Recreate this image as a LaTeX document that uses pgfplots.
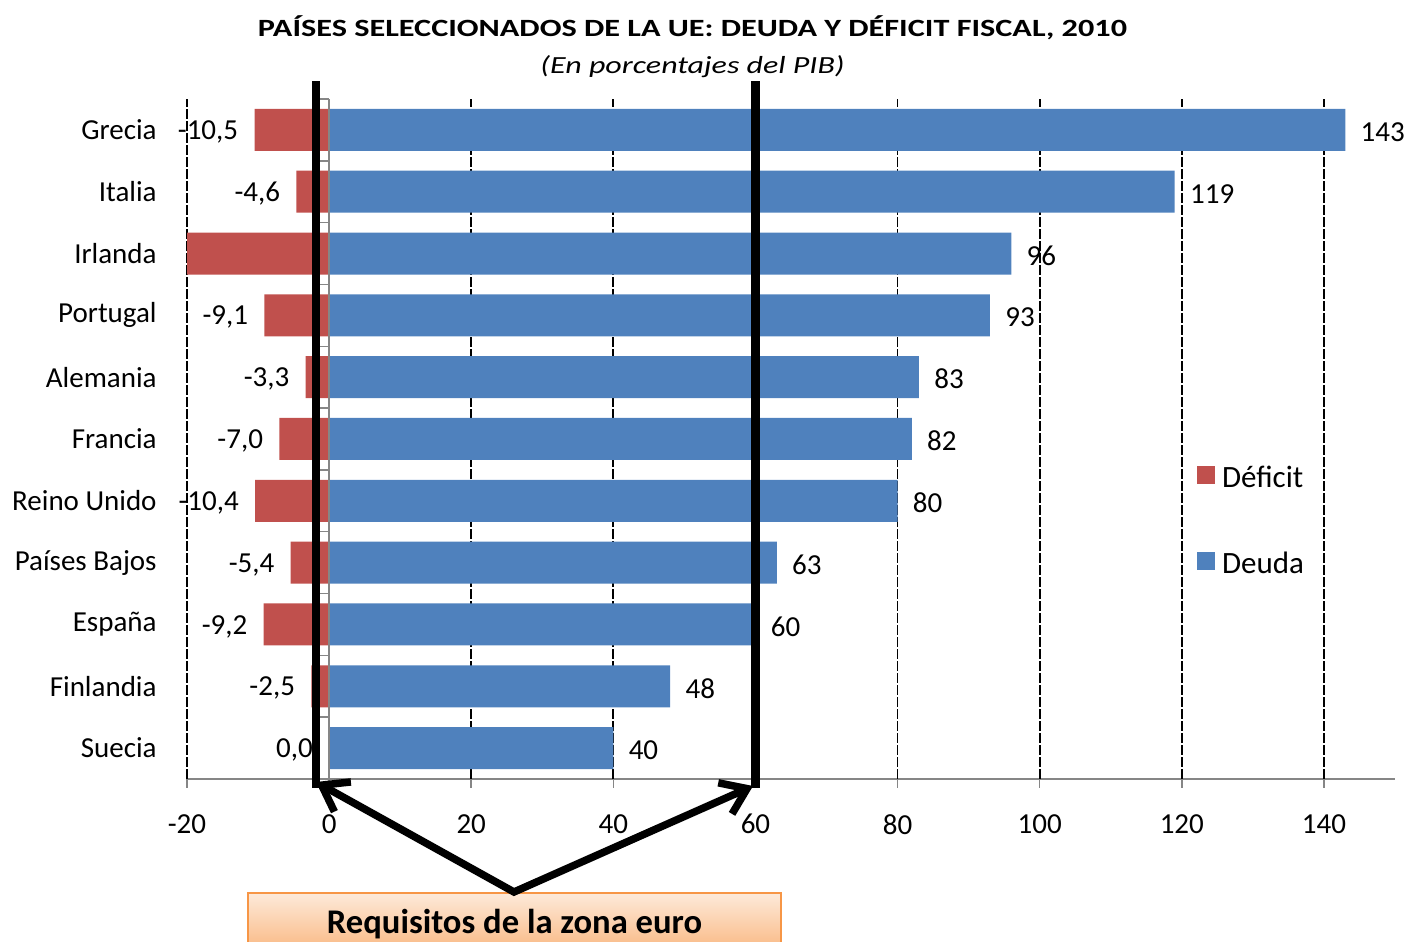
\documentclass[border=0pt]{standalone}
\usepackage{pgfplots}
\pgfplotsset{compat=1.18}
\usepackage{fontspec}
\setmainfont{Carlito}
\newfontfamily\stretchfont[FakeStretch=1.3]{Carlito}
\usetikzlibrary{arrows.meta}
\definecolor{defred}{HTML}{C0504D}
\definecolor{deublue}{HTML}{4F81BD}
\definecolor{axgray}{HTML}{868686}
\definecolor{boxtop}{HTML}{FDEADA}
\definecolor{boxbot}{HTML}{FAC090}
\definecolor{boxline}{HTML}{F79646}
\begin{document}
\begin{tikzpicture}
\useasboundingbox (0,0) rectangle (704.5pt,471pt);
\begin{axis}[
  at={(93.5pt,81.5pt)}, anchor=south west, scale only axis,
  width=604pt, height=340pt,
  xmin=-20, xmax=150, ymin=-0.5, ymax=10.5,
  axis x line*=bottom, axis y line*=left,
  x axis line style={axgray, line width=0.75pt, -},
  y axis line style={draw=none},
  xtick={-20,0,...,140},
  xticklabels={-20,0,20,40,60,80,100,120,140},
  tick align=outside, major tick length=4.5pt,
  xtick style={axgray, line width=0.75pt},
  ytick={0,...,10},
  yticklabels={Suecia,Finlandia,España,Países Bajos,Reino Unido,Francia,Alemania,Portugal,Irlanda,Italia,Grecia},
  ytick style={draw=none},
  tick label style={font=\fontsize{14.5}{17}\selectfont},
  yticklabel style={anchor=east, inner sep=0pt, xshift=-10.5pt},
  xticklabel style={anchor=north, inner sep=0pt, yshift=-13pt},
  extra x ticks={-20,20,40,60,80,100,120,140},
  extra x tick labels={},
  extra x tick style={grid=major, major tick length=0pt},
  major grid style={black, line width=0.9pt, dash pattern=on 5pt off 1pt},
  xbar, bar width=21pt, bar shift=0pt,
  nodes near coords, point meta=explicit symbolic,
  nodes near coords style={font=\fontsize{14.5}{17}\selectfont, inner sep=0pt, black, yshift=-1pt},
  legend image code/.code={\fill[#1] (0pt,-1.5pt) rectangle (9pt,7.5pt);},
  legend style={at={(rel axis cs:0.8361,0.461)}, anchor=north west, draw=none, fill=none,
    inner sep=0pt, outer sep=0pt, row sep=29pt, column sep=3.5pt,
    font=\fontsize{15.5}{18}\selectfont,
    nodes={inner sep=0pt, text height=10pt, text depth=3pt}},
  legend cell align=left,
]
\addplot[fill=defred, draw=none, nodes near coords style={anchor=east, xshift=-8pt}]
  table[x=x, y=y, meta=label] {
x y label
-10.5 10 -10,5
-4.6 9 -4,6
-32.4 8 {}
-9.1 7 -9,1
-3.3 6 -3,3
-7.0 5 -7,0
-10.4 4 -10,4
-5.4 3 -5,4
-9.2 2 -9,2
-2.5 1 -2,5
0.0 0 0,0
};
\addplot[fill=deublue, draw=none, nodes near coords style={anchor=west, xshift=7.5pt}]
  table[x=x, y=y, meta=label] {
x y label
143 10 143
119 9 119
96 8 96
93 7 93
83 6 83
82 5 82
80 4 80
63 3 63
60 2 60
48 1 48
40 0 40
};
\legend{Déficit, Deuda}
\draw[axgray, line width=0.75pt] (axis cs:0,-0.5) -- (axis cs:0,10.5);
\pgfplotsinvokeforeach{-0.5,0.5,1.5,2.5,3.5,4.5,5.5,6.5,7.5,8.5,9.5,10.5}{
  \draw[axgray, line width=0.75pt] (axis cs:0,#1) -- ++(-5pt,0pt);
}
\coordinate (lineAb) at (axis cs:-1.85,-0.5);
\coordinate (lineAt) at (axis cs:-1.85,10.5);
\coordinate (lineBb) at (axis cs:60,-0.5);
\coordinate (lineBt) at (axis cs:60,10.5);
\end{axis}
\draw[line width=4.2pt] ([yshift=-4.5pt]lineAb) -- ([yshift=9pt]lineAt);
\draw[line width=4.2pt] ([yshift=-4.5pt]lineBb) -- ([yshift=9pt]lineBt);
\shade[top color=boxtop, bottom color=boxbot] (124pt,0pt) rectangle (390.5pt,24.5pt);
\draw[boxline, line width=0.75pt] (124pt,0pt) -- (124pt,24.5pt) -- (390.5pt,24.5pt) -- (390.5pt,0pt);
\node[anchor=base, inner sep=0pt, font=\bfseries\fontsize{17.3}{20}\selectfont] at (257.25pt,4.2pt) {Requisitos de la zona euro};
\draw[line width=3.75pt, line join=miter, {Straight Barb[length=12pt,width=17pt]}-{Straight Barb[length=12pt,width=17pt]}]
  (158pt,80pt) -- (257pt,25pt) -- (376.5pt,78pt);
\node[anchor=base, inner sep=0pt, font=\stretchfont\bfseries\fontsize{12.4}{15}\selectfont] at (346.25pt,452.5pt) {PAÍSES SELECCIONADOS DE LA UE: DEUDA Y DÉFICIT FISCAL, 2010};
\node[anchor=base, inner sep=0pt, font=\stretchfont\itshape\fontsize{12.3}{15}\selectfont] at (346.25pt,434pt) {(En porcentajes del PIB)};
\end{tikzpicture}
\end{document}
